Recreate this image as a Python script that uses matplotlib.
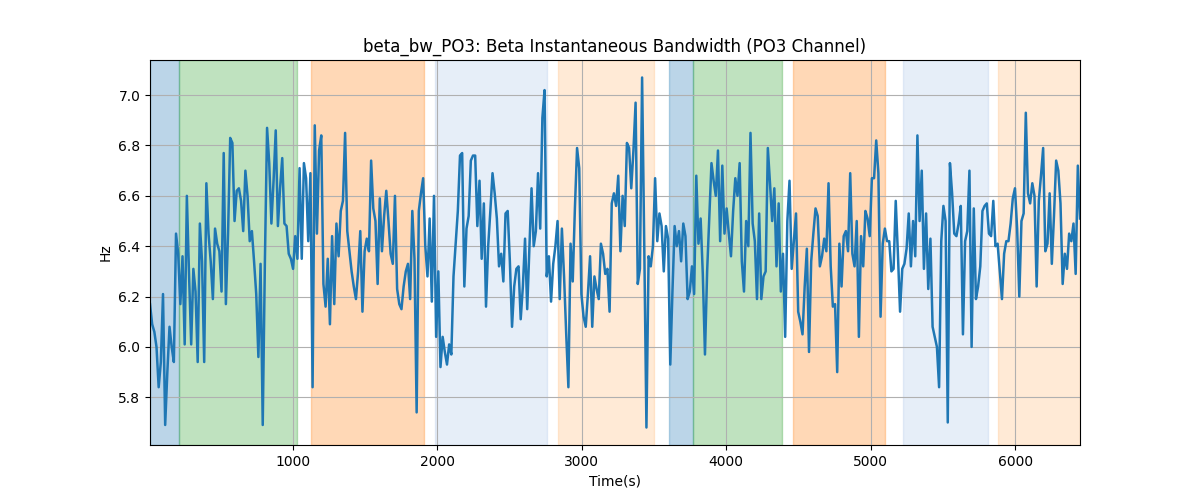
import numpy as np
import matplotlib
matplotlib.use("Agg")
import matplotlib.pyplot as plt

bw_part1 = [6.17, 6.09, 6.06, 6.00, 5.84, 5.94, 6.21, 5.69, 5.90, 6.08, 6.00, 5.94, 6.45, 6.37,
            6.17, 6.36, 6.01, 6.60, 6.29, 6.01, 6.31, 6.22, 5.94, 6.49, 6.34, 5.94, 6.65, 6.45,
            6.34, 6.19, 6.47, 6.41, 6.38, 6.22, 6.77, 6.17, 6.45, 6.83, 6.81, 6.50, 6.62, 6.63,
            6.58, 6.46, 6.70, 6.60, 6.42, 6.46, 6.34, 6.21, 5.96, 6.33, 5.69, 6.34, 6.87, 6.73,
            6.49, 6.66, 6.86, 6.48, 6.63, 6.75, 6.49, 6.48, 6.37, 6.35, 6.31, 6.44, 6.35, 6.71,
            6.35, 6.73, 6.67, 6.42, 6.69]
bw_part2 = [5.84, 6.88, 6.45, 6.78, 6.84, 6.25, 6.16, 6.35, 6.09, 6.44, 6.17, 6.49, 6.36, 6.54,
            6.58, 6.85, 6.46, 6.38, 6.30, 6.24, 6.19, 6.30, 6.46, 6.14, 6.38, 6.43, 6.38, 6.74,
            6.55, 6.50, 6.25, 6.59, 6.38, 6.52, 6.62, 6.50, 6.37, 6.33, 6.60, 6.23, 6.17, 6.15,
            6.24, 6.30, 6.33, 6.19, 6.54, 6.35, 5.74, 6.54, 6.61, 6.67, 6.40, 6.28, 6.51, 6.18,
            6.60, 6.04, 6.30, 5.92, 6.04, 5.98, 5.93, 6.01, 5.97, 6.28, 6.41, 6.54, 6.76]
bw_part3 = [6.77, 6.24, 6.47, 6.52, 6.74, 6.76, 6.76, 6.48, 6.66, 6.35, 6.57, 6.16, 6.40, 6.54,
            6.69, 6.61, 6.51, 6.32, 6.37, 6.26, 6.53, 6.54, 6.34, 6.08, 6.24, 6.31, 6.32, 6.11,
            6.24, 6.43, 6.15, 6.39, 6.63, 6.40, 6.46, 6.69, 6.47, 6.91, 7.02, 6.28, 6.36, 6.18,
            6.33, 6.40, 6.50, 6.19, 6.47, 6.28, 6.05, 5.84, 6.41, 6.26, 6.55, 6.79, 6.71, 6.21,
            6.12, 6.08, 6.21, 6.36, 6.08, 6.28, 6.23, 6.19, 6.41, 6.37, 6.29, 6.31, 6.14]
bw_part4 = [6.57, 6.61, 6.56, 6.68, 6.38, 6.60, 6.48, 6.81, 6.79, 6.63, 6.78, 6.97, 6.25, 6.31,
            7.07, 6.40, 5.68, 6.36, 6.32, 6.40, 6.67, 6.42, 6.53, 6.48, 6.30, 6.48, 6.43, 5.93,
            6.22, 6.48, 6.40, 6.46, 6.34, 6.49, 6.44, 6.19, 6.22, 6.32, 6.21, 6.68, 6.41, 6.51,
            6.29, 5.97, 6.30, 6.52, 6.73, 6.66, 6.60, 6.78, 6.42, 6.72, 6.45, 6.55, 6.45, 6.36,
            6.54, 6.67, 6.60, 6.73, 6.34, 6.22, 6.50, 6.40, 6.85, 6.49, 6.42, 6.19, 6.53]
bw_part5 = [6.19, 6.28, 6.30, 6.79, 6.65, 6.50, 6.63, 6.32, 6.57, 6.22, 6.37, 6.04, 6.50, 6.66,
            6.31, 6.42, 6.53, 6.14, 6.10, 6.05, 6.24, 6.39, 5.98, 6.34, 6.45, 6.55, 6.52, 6.32,
            6.36, 6.43, 6.38, 6.65, 6.32, 6.16, 6.17, 5.90, 6.41, 6.24, 6.44, 6.46, 6.38, 6.69,
            6.37, 6.32, 6.50, 6.04, 6.44, 6.32, 6.54, 6.51, 6.44, 6.67, 6.67, 6.82, 6.69, 6.12,
            6.41, 6.47, 6.42, 6.42, 6.30, 6.31, 6.58, 6.37, 6.14, 6.31, 6.33, 6.39]
bw_part6 = [6.53, 6.32, 6.50, 6.36, 6.84, 6.50, 6.70, 6.31, 6.53, 6.23, 6.43, 6.08, 6.04, 6.00,
            5.84, 6.42, 6.56, 6.50, 5.70, 6.73, 6.61, 6.45, 6.44, 6.49, 6.56, 6.05, 6.42, 6.46,
            6.70, 6.00, 6.55, 6.19, 6.24, 6.32, 6.54, 6.56, 6.57, 6.45, 6.44, 6.58, 6.40, 6.41,
            6.30, 6.19, 6.37, 6.42, 6.42, 6.49, 6.59, 6.63, 6.47, 6.20, 6.50, 6.53, 6.93, 6.61,
            6.57, 6.65, 6.60, 6.24, 6.58, 6.68, 6.79, 6.38, 6.41, 6.61, 6.33, 6.52, 6.74, 6.70,
            6.57, 6.25, 6.37, 6.31, 6.45, 6.42, 6.49, 6.29, 6.72, 6.51]

t_start, t_end = 13, 6448

# Shaded segments (start, end, colour)
seg_starts = [t_start, 211, 1127, 1985, 2834, 3604, 3772, 4462, 5223, 5878]
seg_ends = [211, 1032, 1908, 2758, 3502, 3772, 4384, 5096, 5809, t_end]
seg_colors = ["#1f77b4", "#2ca02c", "#ff7f0e", "#aec7e8", "#ffbb78",
              "#1f77b4", "#2ca02c", "#ff7f0e", "#aec7e8", "#ffbb78"]

values = np.array(bw_part1 + bw_part2 + bw_part3 + bw_part4 + bw_part5 + bw_part6)
times = np.linspace(t_start, t_end, len(values))

fig, ax = plt.subplots(figsize=(12, 5), dpi=100)
for s, e, c in zip(seg_starts, seg_ends, seg_colors):
    ax.axvspan(s, e, color=c, alpha=0.3, linewidth=1)
ax.plot(times, values, color="#1f77b4", linewidth=1.8)
ax.set_xlim(t_start, t_end)
ax.grid(True)
ax.set_title("beta_bw_PO3: Beta Instantaneous Bandwidth (PO3 Channel)")
ax.set_xlabel("Time(s)")
ax.set_ylabel("Hz")
fig.savefig("out.png")
